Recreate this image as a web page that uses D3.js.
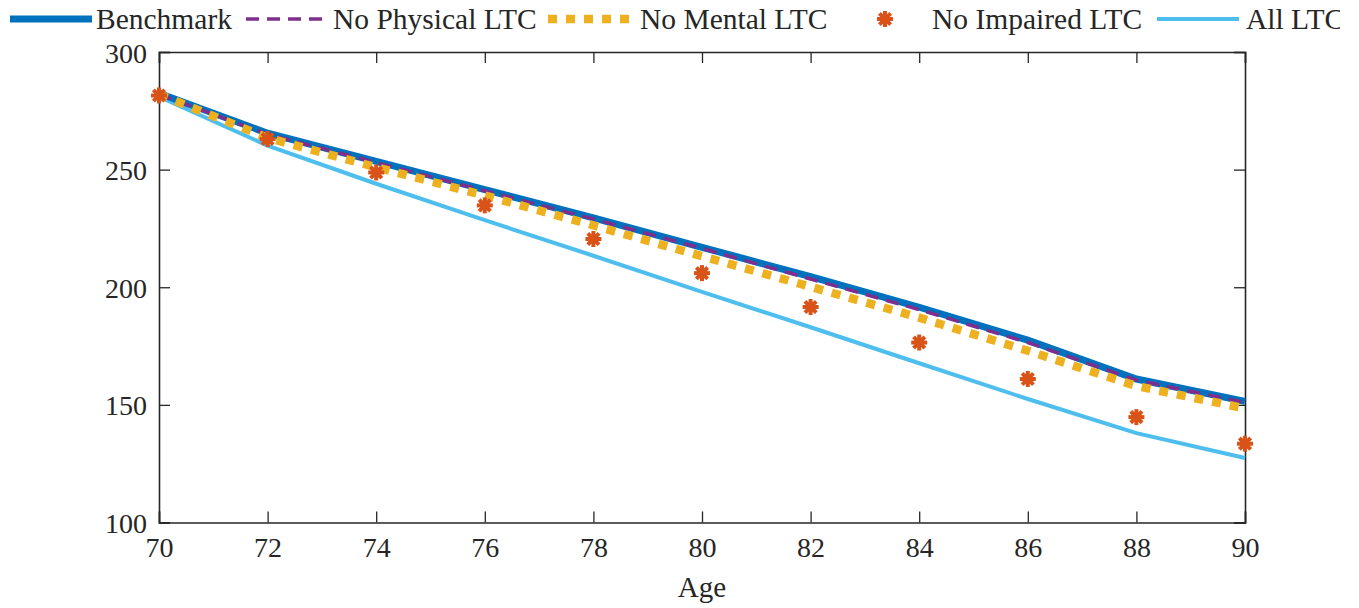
<!DOCTYPE html>
<html>
<head>
<meta charset="utf-8">
<script src="https://cdn.jsdelivr.net/npm/d3@7"></script>
<style>
  html, body { margin: 0; padding: 0; background: #fff; }
  svg { display: block; }
  text { font-family: "Liberation Serif", "Times New Roman", serif; fill: #262626; }
</style>
</head>
<body>
<svg id="chart" width="1359" height="608"></svg>
<script>
// Ages on the horizontal axis
const ages = [70, 72, 74, 76, 78, 80, 82, 84, 86, 88, 90];

// Series values by age
const benchmark   = [282.5, 265.5, 253.5, 241.5, 229.5, 217, 204.5, 191.5, 177.5, 161, 151.5];
const noPhysical  = [282, 265, 253, 241, 229, 216.5, 203.5, 190.5, 176.5, 160.5, 151];
const noMental    = [282, 263.5, 251, 239, 226.3, 213.2, 200.2, 187.1, 173, 158, 148.5];
const noImpaired  = [281.5, 263, 248.8, 234.8, 220.5, 206, 191.6, 176.5, 161, 144.8, 133.5];
const allLTC      = [281, 260.2, 244, 228.5, 213.4, 198, 183, 167.7, 152.5, 138, 127.4];

// Tick labels
const xTicks = [70, 72, 74, 76, 78, 80, 82, 84, 86, 88, 90];
const yTicks = [100, 150, 200, 250, 300];

const seriesNames = ["Benchmark", "No Physical LTC", "No Mental LTC", "No Impaired LTC", "All LTC"];

const svg = d3.select("#chart");
const margin = { left: 159, right: 1359 - 1245, top: 52, bottom: 608 - 522.5 };
const W = 1359, H = 608;

const x = d3.scaleLinear().domain([70, 90]).range([margin.left, W - margin.right]);
const y = d3.scaleLinear().domain([100, 300]).range([H - margin.bottom, margin.top]);

const axisColor = "#262626";
const tickLen = 11;

// Axes: bottom/left with labels, top/right mirrored ticks (boxed frame)
const gx = svg.append("g").attr("transform", `translate(0,${y(100)})`)
  .call(d3.axisBottom(x).tickValues(xTicks).tickSize(-tickLen).tickPadding(14).tickFormat(d3.format("d")));
const gy = svg.append("g").attr("transform", `translate(${x(70)},0)`)
  .call(d3.axisLeft(y).tickValues(yTicks).tickSize(-tickLen).tickPadding(12).tickFormat(d3.format("d")));
const gxt = svg.append("g").attr("transform", `translate(0,${y(300)})`)
  .call(d3.axisTop(x).tickValues(xTicks).tickSize(-tickLen).tickFormat(""));
const gyr = svg.append("g").attr("transform", `translate(${x(90)},0)`)
  .call(d3.axisRight(y).tickValues(yTicks).tickSize(-tickLen).tickFormat(""));

[gx, gy, gxt, gyr].forEach(g => {
  g.select(".domain").attr("stroke", axisColor).attr("stroke-width", 1.6);
  g.selectAll(".tick line").attr("stroke", axisColor).attr("stroke-width", 1.3);
  g.selectAll(".tick text").attr("font-size", 28).attr("font-family", "Liberation Serif").attr("fill", axisColor);
});
gy.selectAll(".tick text").attr("dy", "0.36em");
gx.selectAll(".tick text").attr("dy", "0.72em");

// Axis title
svg.append("text")
  .attr("x", (x(70) + x(90)) / 2)
  .attr("y", 597)
  .attr("text-anchor", "middle")
  .attr("font-size", 29)
  .text("Age");

// Line series
const line = d3.line().x((d, i) => x(ages[i])).y(d => y(d));

const plot = svg.append("g");

plot.append("path").datum(allLTC)
  .attr("d", line).attr("fill", "none")
  .attr("stroke", "#4DBEEE").attr("stroke-width", 4);

plot.append("path").datum(benchmark)
  .attr("d", line).attr("fill", "none")
  .attr("stroke", "#0072BD").attr("stroke-width", 7);

plot.append("path").datum(noPhysical)
  .attr("d", line).attr("fill", "none")
  .attr("stroke", "#7E2F8E").attr("stroke-width", 3.5)
  .attr("stroke-dasharray", "13,8");

plot.append("path").datum(noMental)
  .attr("d", line).attr("fill", "none")
  .attr("stroke", "#EDB120").attr("stroke-width", 8.5)
  .attr("stroke-dasharray", "9,9");

// Asterisk markers
function asterisk(g, cx, cy, r) {
  const m = g.append("g").attr("transform", `translate(${cx},${cy})`);
  for (let k = 0; k < 4; k++) {
    const a = k * Math.PI / 4;
    m.append("line")
      .attr("x1", -r * Math.cos(a)).attr("y1", -r * Math.sin(a))
      .attr("x2", r * Math.cos(a)).attr("y2", r * Math.sin(a))
      .attr("stroke", "#D95319").attr("stroke-width", 4);
  }
  m.append("circle").attr("r", r * 0.62).attr("fill", "#D95319");
}
noImpaired.forEach((v, i) => asterisk(plot, x(ages[i]), y(v), 8));

// Legend across the top
const legendClip = svg.append("clipPath").attr("id", "legendClip");
legendClip.append("rect").attr("x", 0).attr("y", 0).attr("width", 1340).attr("height", 45);
const legend = svg.append("g").attr("clip-path", "url(#legendClip)");
const legY = 19;
const legendItems = [
  { name: seriesNames[0], x0: 10, x1: 92, tx: 96, style: { stroke: "#0072BD", w: 7 } },
  { name: seriesNames[1], x0: 246, x1: 328, tx: 333, style: { stroke: "#7E2F8E", w: 3.5, dash: "13,8" } },
  { name: seriesNames[2], x0: 548, x1: 632, tx: 640, style: { stroke: "#EDB120", w: 8.5, dash: "9,9" } },
  { name: seriesNames[3], marker: 885, tx: 932 },
  { name: seriesNames[4], x0: 1157, x1: 1239, tx: 1246, style: { stroke: "#4DBEEE", w: 4 } }
];
legendItems.forEach(it => {
  if (it.marker) {
    asterisk(legend, it.marker, legY, 8);
  } else {
    legend.append("line")
      .attr("x1", it.x0).attr("x2", it.x1).attr("y1", legY).attr("y2", legY)
      .attr("stroke", it.style.stroke).attr("stroke-width", it.style.w)
      .attr("stroke-dasharray", it.style.dash || null);
  }
  legend.append("text")
    .attr("x", it.tx).attr("y", 29)
    .attr("font-size", 29.5)
    .attr("fill", "#000")
    .text(it.name);
});
</script>
</body>
</html>
